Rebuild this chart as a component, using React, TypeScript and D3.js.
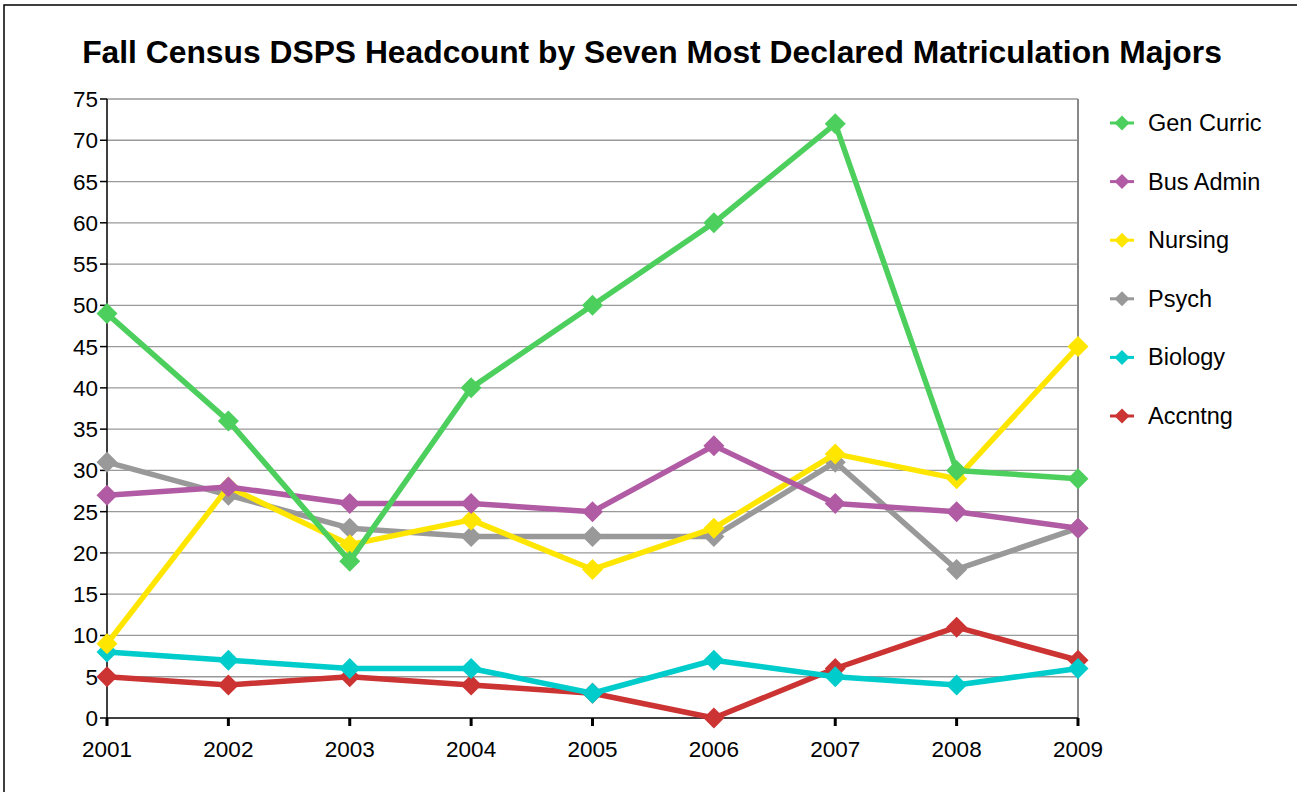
import React from 'react'
import * as d3 from 'd3'

const years = ['2001', '2002', '2003', '2004', '2005', '2006', '2007', '2008', '2009']
const yTicks = [0, 5, 10, 15, 20, 25, 30, 35, 40, 45, 50, 55, 60, 65, 70, 75]

const genCurric = [49, 36, 19, 40, 50, 60, 72, 30, 29]
const busAdmin = [27, 28, 26, 26, 25, 33, 26, 25, 23]
const nursing = [9, 28, 21, 24, 18, 23, 32, 29, 45]
const psych = [31, 27, 23, 22, 22, 22, 31, 18, 23]
const biology = [8, 7, 6, 6, 3, 7, 5, 4, 6]
const accntng = [5, 4, 5, 4, 3, 0, 6, 11, 7]

const seriesNames = ['Gen Curric', 'Bus Admin', 'Nursing', 'Psych', 'Biology', 'Accntng']
const seriesValues = [genCurric, busAdmin, nursing, psych, biology, accntng]
const seriesColors = ['#4dcf5d', '#b05ba3', '#ffe600', '#999999', '#00cccc', '#cc3333']

// draw order: last drawn on top
const drawOrder = [5, 4, 3, 2, 1, 0]

const W = 1297
const H = 792
const left = 107
const right = 1078
const top = 99
const bottom = 718
const font = 'Liberation Sans, Arial, sans-serif'

const x = d3.scalePoint<string>().domain(years).range([left, right])
const y = d3.scaleLinear().domain([0, 75]).range([bottom, top])

const diamond = (cx: number, cy: number, r: number) =>
  `M${cx},${cy - r}L${cx + r},${cy}L${cx},${cy + r}L${cx - r},${cy}Z`

export default function App () {
  const line = d3.line<number>()
    .x((d, i) => x(years[i]) as number)
    .y(d => y(d))

  return (
    <svg width={W} height={H} viewBox={`0 0 ${W} ${H}`}
      style={{ position: 'absolute', left: 0, top: 0, background: '#fff' }}>
      <rect x={4} y={5} width={W + 10} height={H + 10} fill='#fff' stroke='#000' strokeWidth={1.5} />
      <text x={652} y={63} textAnchor='middle' fontFamily={font} fontWeight='bold' fontSize={31.8} fill='#000'>
        Fall Census DSPS Headcount by Seven Most Declared Matriculation Majors
      </text>

      {yTicks.filter(t => t > 0).map(t => (
        <line key={'g' + t} x1={left} x2={right} y1={y(t)} y2={y(t)} stroke='#999' strokeWidth={1.3} />
      ))}
      <line x1={right} x2={right} y1={top} y2={bottom} stroke='#888' strokeWidth={2} />
      <line x1={left} x2={left} y1={top} y2={bottom} stroke='#000' strokeWidth={1.5} />
      <line x1={left} x2={right} y1={bottom} y2={bottom} stroke='#000' strokeWidth={1.5} />

      {yTicks.map(t => (
        <g key={'y' + t}>
          <line x1={left - 7} x2={left} y1={y(t)} y2={y(t)} stroke='#000' strokeWidth={1.5} />
          <text x={left - 9} y={y(t) + 8} textAnchor='end' fontFamily={font} fontSize={22.5} fill='#000'>{t}</text>
        </g>
      ))}

      {years.map(yr => (
        <g key={'x' + yr}>
          <line x1={x(yr)} x2={x(yr)} y1={bottom} y2={bottom + 8} stroke='#000' strokeWidth={3} />
          <text x={x(yr)} y={757} textAnchor='middle' fontFamily={font} fontSize={22.5} fill='#000'>{yr}</text>
        </g>
      ))}

      {drawOrder.map(si => (
        <g key={'s' + si}>
          <path d={line(seriesValues[si]) as string} fill='none' stroke={seriesColors[si]} strokeWidth={5.5} strokeLinejoin='round' />
          {seriesValues[si].map((v, i) => (
            <path key={i} d={diamond(x(years[i]) as number, y(v), 10.5)} fill={seriesColors[si]} />
          ))}
        </g>
      ))}

      {seriesNames.map((name, i) => {
        const ly = 123 + i * 58.6
        return (
          <g key={'l' + name}>
            <line x1={1110} x2={1134} y1={ly} y2={ly} stroke={seriesColors[i]} strokeWidth={3} />
            <path d={diamond(1122, ly, 7.5)} fill={seriesColors[i]} />
            <text x={1148} y={ly + 8} fontFamily={font} fontSize={23.5} fill='#000'>{name}</text>
          </g>
        )
      })}
    </svg>
  )
}
